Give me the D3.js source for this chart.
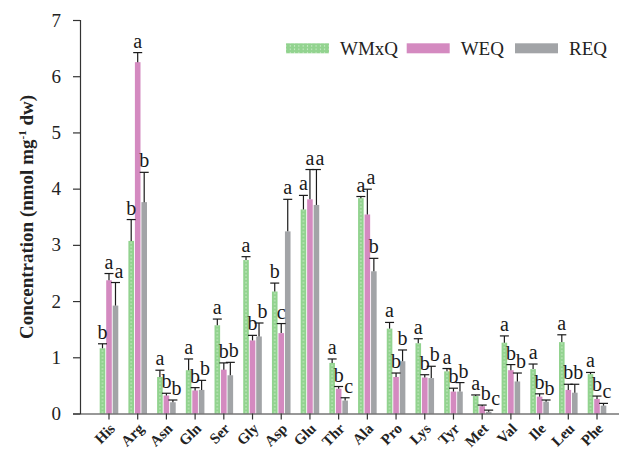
<!DOCTYPE html>
<html>
<head>
<meta charset="utf-8">
<script src="https://cdn.jsdelivr.net/npm/d3@7"></script>
<style>
  html, body { margin: 0; padding: 0; background: #fff; }
  svg { display: block; font-family: "Liberation Serif", "Times New Roman", serif; }
</style>
</head>
<body>
<svg id="chart" width="619" height="449"></svg>
<script>
// Free amino acid content in three lines (mean with upper error bar, letters = significance groups)
const categories = ["His","Arg","Asn","Gln","Ser","Gly","Asp","Glu","Thr","Ala","Pro","Lys","Tyr","Met","Val","Ile","Leu","Phe"];
const seriesNames = ["WMxQ", "WEQ", "REQ"];

const wmxqMean = [1.16, 3.07, 0.65, 0.77, 1.57, 2.73, 2.17, 3.63, 0.90, 3.83, 1.51, 1.25, 0.75, 0.31, 1.26, 0.79, 1.27, 0.70];
const wmxqErr  = [0.08, 0.38, 0.12, 0.20, 0.11, 0.06, 0.15, 0.25, 0.07, 0.03, 0.11, 0.08, 0.05, 0.02, 0.12, 0.09, 0.13, 0.03];
const wmxqSig  = ["b","b","a","a","a","a","b","a","a","a","a","a","a","a","a","a","a","a"];

const weqMean = [2.37, 6.25, 0.32, 0.41, 0.78, 1.30, 1.43, 3.81, 0.44, 3.54, 0.65, 0.64, 0.39, 0.13, 0.77, 0.30, 0.42, 0.26];
const weqErr  = [0.12, 0.17, 0.04, 0.05, 0.12, 0.09, 0.17, 0.53, 0.04, 0.45, 0.07, 0.05, 0.06, 0.02, 0.10, 0.05, 0.10, 0.05];
const weqSig  = ["a","a","b","b","b","b","c","a","b","a","b","b","b","b","b","b","b","b"];

const reqMean = [1.92, 3.76, 0.20, 0.42, 0.68, 1.37, 3.24, 3.71, 0.23, 2.53, 0.93, 0.63, 0.39, 0.03, 0.57, 0.21, 0.37, 0.14];
const reqErr  = [0.41, 0.53, 0.04, 0.17, 0.23, 0.24, 0.57, 0.63, 0.05, 0.23, 0.20, 0.21, 0.16, 0.03, 0.15, 0.03, 0.15, 0.04];
const reqSig  = ["a","b","b","b","b","b","a","a","c","b","b","b","b","c","b","b","b","c"];

const yTicks = [0, 1, 2, 3, 4, 5, 6, 7];

const colors = { WMxQ: "#92d38f", WEQ: "#d48ac0", REQ: "#a2a4a7" };

const series = [
  { name: "WMxQ", mean: wmxqMean, err: wmxqErr, sig: wmxqSig },
  { name: "WEQ",  mean: weqMean,  err: weqErr,  sig: weqSig },
  { name: "REQ",  mean: reqMean,  err: reqErr,  sig: reqSig }
];

const svg = d3.select("#chart");
const plotLeft = 80, plotBottom = 413.5, plotTop = 20;

const x = d3.scaleBand().domain(categories).range([plotLeft, 626]).paddingInner(0.35).paddingOuter(0.685);
const y = d3.scaleLinear().domain([0, 7]).range([plotBottom, plotTop]);

const barW = 5.6, barGap = 0.9;
const offset = i => (i - 1) * (barW + barGap);
const centre = (c, si) => x(c) + x.bandwidth() / 2 + offset(si);

// dotted fill for the WMxQ bars: one column of dots down the middle of each bar
const defs = svg.append("defs");
const pBar = defs.append("pattern").attr("id", "dotsBar")
  .attr("patternUnits", "userSpaceOnUse").attr("width", barW).attr("height", 3.6);
pBar.append("rect").attr("width", barW).attr("height", 3.6).attr("fill", colors.WMxQ);
pBar.append("circle").attr("cx", barW / 2).attr("cy", 1.8).attr("r", 0.65).attr("fill", "#e9f7e6");

const pLeg = defs.append("pattern").attr("id", "dotsLegend")
  .attr("patternUnits", "userSpaceOnUse").attr("width", 4.3).attr("height", 3.4);
pLeg.append("rect").attr("width", 4.3).attr("height", 3.4).attr("fill", colors.WMxQ);
pLeg.append("circle").attr("cx", 2.15).attr("cy", 1.7).attr("r", 0.6).attr("fill", "#e9f7e6");

// bars
series.forEach((s, si) => {
  const barG = svg.append("g");
  categories.forEach((c, ci) => {
    const g = barG.append("g").attr("transform", `translate(${centre(c, si) - barW / 2},0)`);
    g.append("rect")
      .attr("x", 0).attr("y", y(s.mean[ci]))
      .attr("width", barW).attr("height", y(0) - y(s.mean[ci]))
      .attr("fill", si === 0 ? "url(#dotsBar)" : colors[s.name]);
  });
});

// error bars (upper half only)
const errG = svg.append("g").attr("stroke", "#1a1a1a").attr("stroke-width", 1.2);
series.forEach((s, si) => {
  categories.forEach((c, ci) => {
    const cx = centre(c, si);
    const y1 = y(s.mean[ci]), y2 = y(s.mean[ci] + s.err[ci]);
    errG.append("line").attr("x1", cx).attr("x2", cx).attr("y1", y1).attr("y2", y2);
    errG.append("line").attr("x1", cx - 4.5).attr("x2", cx + 4.5).attr("y1", y2).attr("y2", y2);
  });
});

// significance letters, nudged right when they would collide within a group
const sigG = svg.append("g").attr("font-size", 20).attr("fill", "#1a1a1a").attr("text-anchor", "middle");
categories.forEach((c, ci) => {
  const placed = [];
  series.forEach((s, si) => {
    let lx = centre(c, si);
    const ly = y(s.mean[ci] + s.err[ci]) - 5;
    placed.forEach(p => {
      if (Math.abs(ly - p.y) < 14 && lx - p.x < 10) lx = p.x + 10;
    });
    placed.push({ x: lx, y: ly });
    sigG.append("text").attr("x", lx).attr("y", ly).text(s.sig[ci]);
  });
});

// y axis
const yAxis = d3.axisLeft(y).tickValues(yTicks).tickFormat(d3.format("d")).tickSize(7).tickPadding(12);
const yg = svg.append("g").attr("transform", `translate(${plotLeft},0)`).call(yAxis);
yg.select(".domain").attr("stroke", "#333").attr("stroke-width", 1.2);
yg.selectAll(".tick line").attr("stroke", "#333").attr("stroke-width", 1.2);
yg.selectAll(".tick text").attr("font-family", "Liberation Serif, serif").attr("font-size", 19).attr("fill", "#222");

// x axis
const xAxis = d3.axisBottom(x).tickSize(6).tickSizeOuter(0).tickFormat("");
const xg = svg.append("g").attr("transform", `translate(0,${plotBottom})`).call(xAxis);
xg.select(".domain").attr("stroke", "#333").attr("stroke-width", 1.2);
xg.selectAll(".tick line").attr("stroke", "#333").attr("stroke-width", 1.2);

svg.append("g").selectAll("text").data(categories).join("text")
  .attr("transform", d => `translate(${x(d) + x.bandwidth() / 2 + 7},${plotBottom + 16}) rotate(-45)`)
  .attr("text-anchor", "end")
  .attr("font-size", 15).attr("font-weight", "bold").attr("fill", "#222")
  .text(d => d);

// y axis title
const title = svg.append("text")
  .attr("transform", `translate(33,217) rotate(-90)`)
  .attr("text-anchor", "middle")
  .attr("font-size", 19).attr("font-weight", "bold").attr("fill", "#222");
title.append("tspan").text("Concentration (nmol mg");
title.append("tspan").attr("font-size", 11).attr("dy", -7).text("-1");
title.append("tspan").attr("dy", 7).text(" dw)");

// legend
const legX = [286, 406.7, 515];
const leg = svg.append("g");
seriesNames.forEach((n, i) => {
  leg.append("rect").attr("x", legX[i]).attr("y", 43.3).attr("width", 43).attr("height", 10)
    .attr("fill", i === 0 ? "url(#dotsLegend)" : colors[n]);
  leg.append("text").attr("x", legX[i] + 54).attr("y", 54.5)
    .attr("font-size", 19).attr("fill", "#222").text(n);
});
</script>
</body>
</html>
